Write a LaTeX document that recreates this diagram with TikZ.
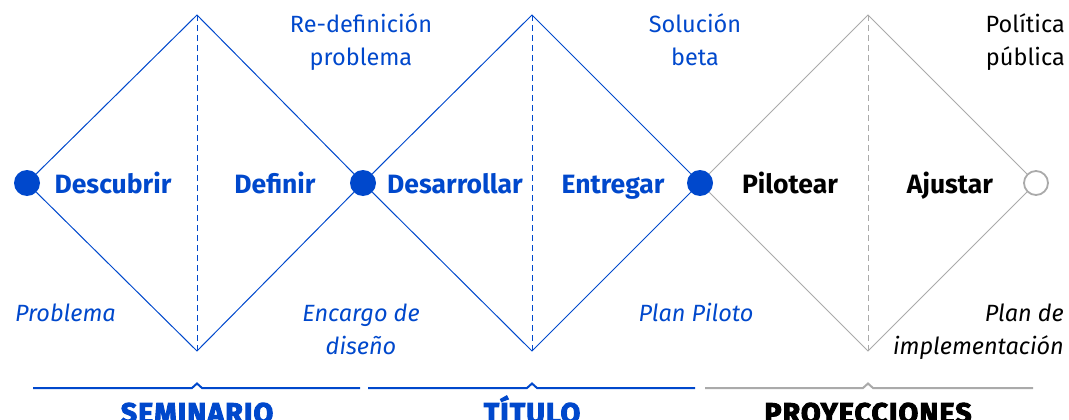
\documentclass[tikz,border=0pt]{standalone}
\usepackage{fontspec}
\setmainfont{Fira Sans}
\newfontfamily\heavyfont[FakeBold=3.5,LetterSpace=4]{Fira Sans}
\definecolor{dblue}{RGB}{0,72,204}
\definecolor{dgray}{RGB}{170,170,170}
\begin{document}
\begin{tikzpicture}[x=1pt,y=-1pt,
  dot/.style={circle,fill=dblue,inner sep=0pt,minimum size=26pt},
  odot/.style={circle,draw=dgray,line width=1.8pt,fill=white,inner sep=0pt,minimum size=24pt},
  phase/.style={font=\fontsize{26.5}{28}\selectfont\bfseries,inner sep=0pt,anchor=base},
  outtop/.style={font=\fontsize{23.5}{33}\selectfont,align=center,inner sep=0pt,anchor=base},
  outbot/.style={font=\fontsize{23.5}{33}\selectfont\itshape,align=center,inner sep=0pt,anchor=base},
  stage/.style={font=\fontsize{28.5}{30}\selectfont\heavyfont\bfseries,inner sep=0pt,anchor=base},
  brk/.style={line width=2pt},
  edge/.style={line width=1pt},
  mid/.style={line width=1pt,dashed,dash pattern=on 6pt off 4pt}
]
\useasboundingbox (0,0) rectangle (1069,420);
% coordinates
\coordinate (t1) at (197,15); \coordinate (b1) at (197,351);
\coordinate (t2) at (532,15); \coordinate (b2) at (532,351);
\coordinate (t3) at (868,15); \coordinate (b3) at (868,351);
% dots
\node[dot] (c1) at (27,183) {};
\node[dot] (c2) at (363,183) {};
\node[dot] (c3) at (700,183) {};
\node[odot] (c4) at (1036,183) {};
% diamonds
\draw[edge,dblue] (c1) -- (t1) -- (c2) -- (b1) -- (c1);
\draw[edge,dblue] (c2) -- (t2) -- (c3) -- (b2) -- (c2);
\draw[edge,dgray] (c3) -- (t3) -- (c4) -- (b3) -- (c3);
\draw[mid,dblue] (t1) -- (b1);
\draw[mid,dblue] (t2) -- (b2);
\draw[mid,dgray] (t3) -- (b3);
% phase labels
\node[phase,text=dblue] (p1) at (113,193) {Descubrir};
\node[phase,text=dblue] (p2) at (275,193) {Definir};
\node[phase,text=dblue] (p3) at (455,193) {Desarrollar};
\node[phase,text=dblue] (p4) at (613,193) {Entregar};
\node[phase,text=black] (p5) at (790,193) {Pilotear};
\node[phase,text=black] (p6) at (950,193) {Ajustar};
% top outputs (base = last line)
\node[outtop,text=dblue] (o1) at (361,66) {Re-definición\\problema};
\node[outtop,text=dblue] (o2) at (695,66) {Solución\\beta};
\node[outtop,text=black,align=right,anchor=base east] (o3) at (1065,66) {Política\\pública};
% bottom outputs
\node[outbot,text=dblue,anchor=base west] (i1) at (15,321) {Problema};
\node[outbot,text=dblue] (i2) at (361,354) {Encargo de\\diseño};
\node[outbot,text=dblue] (i3) at (696,321) {Plan Piloto};
\node[outbot,text=black,align=right,anchor=base east] (i4) at (1064,354) {Plan de\\implementación};
% brackets
\coordinate (s1a) at (33,388); \coordinate (s1b) at (360,388);
\coordinate (s2a) at (368,388); \coordinate (s2b) at (695,388);
\coordinate (s3a) at (705,388); \coordinate (s3b) at (1033,388);
\draw[brk,dblue] (s1a) -- (192,388) -- (197,383.5) -- (202,388) -- (s1b);
\draw[brk,dblue] (s2a) -- (527,388) -- (532,383.5) -- (537,388) -- (s2b);
\draw[brk,dgray] (s3a) -- (863,388) -- (868,383.5) -- (873,388) -- (s3b);
\node[stage,text=dblue] (l1) at (197,423) {SEMINARIO};
\node[stage,text=dblue] (l2) at (532,423) {TÍTULO};
\node[stage,text=black] (l3) at (868,423) {PROYECCIONES};
\end{tikzpicture}
\end{document}
